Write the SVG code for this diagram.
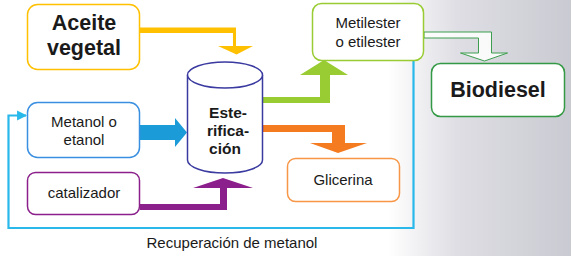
<svg xmlns="http://www.w3.org/2000/svg" width="571" height="256" viewBox="0 0 571 256">
<defs>
<linearGradient id="bg" x1="0" y1="0" x2="1" y2="0">
<stop offset="0" stop-color="#ffffff"/>
<stop offset="0.68" stop-color="#ffffff"/>
<stop offset="0.8" stop-color="#dedee4"/>
<stop offset="1" stop-color="#cacad2"/>
</linearGradient>
<marker id="cyanhead" viewBox="0 0 10 10" refX="9" refY="5" markerWidth="4.5" markerHeight="5" orient="auto" markerUnits="strokeWidth">
<path d="M0,0 L10,5 L0,10 Z" fill="#29b8ea"/>
</marker>
<style>
.box{fill:#ffffff;stroke-width:1.5}
.t{font-family:"Liberation Sans",Arial,sans-serif;fill:#1a1a1a;text-anchor:middle}
.big{font-size:21.5px;font-weight:bold}
.mid{font-size:15px}
.cyl{font-size:15.5px;font-weight:bold}
</style>
</defs>
<rect x="0" y="0" width="571" height="256" fill="url(#bg)"/>

<g id="connectors">
<path id="c-aceite" d="M140,27.5 H236 V46 H253 L236.5,54.5 L218,46 H233 V33 H140 Z" fill="#ffc000"/>
<path id="c-metanol" d="M140,125 H175 V118 L187,132.5 L175,147 V140 H140 Z" fill="#1b9bd7"/>
<path id="c-catal" d="M140,204 H220 V188 H193 L223,178 L253,188 H227 V210 H140 Z" fill="#8b1f8b"/>
<path id="c-metil" d="M263,97 H320 V75 H300 L324,60 L348,75 H330 V103 H263 Z" fill="#99cc33"/>
<path id="c-glic" d="M263,125 H345 V143 H367 L338,153 L310,143 H332 V132 H263 Z" fill="#f47b20"/>
<path id="c-bio" d="M424,32 H491.5 V53 H507.5 L484.5,61 L460.5,53 H478.5 V38 H424 Z" fill="#ffffff" fill-opacity="0.85" stroke="#3c9e4e" stroke-width="1"/>
<path id="c-recup" d="M413.5,61 V228 H8.5 V115.5 H26" fill="none" stroke="#29b8ea" stroke-width="2.2" marker-end="url(#cyanhead)"/>
<text class="t" x="232" y="248" font-size="15">Recuperación de metanol</text>
</g>

<g id="aceite">
<rect class="box" x="27.5" y="4.5" width="112" height="65" rx="10" stroke="#ffc000"/>
<text class="t big" x="84" y="30">Aceite</text>
<text class="t big" x="84" y="55">vegetal</text>
</g>

<g id="metanol">
<rect class="box" x="27.5" y="102.5" width="112" height="55" rx="10" stroke="#3a8fe0"/>
<text class="t mid" x="84" y="127">Metanol o</text>
<text class="t mid" x="84" y="145">etanol</text>
</g>

<g id="catalizador">
<rect class="box" x="27.5" y="172.5" width="112" height="42" rx="8" stroke="#8b1f8b"/>
<text class="t mid" x="84" y="198">catalizador</text>
</g>

<g id="esterificacion">
<path d="M187.5,75 V160 A37.5,13 0 0 0 262.5,160 V75" fill="#ffffff" stroke="#3a3aa0" stroke-width="1.5"/>
<ellipse cx="225" cy="75" rx="37.5" ry="13" fill="#ffffff" stroke="#3a3aa0" stroke-width="1.5"/>
<text class="t cyl" x="228" y="118">Este-</text>
<text class="t cyl" x="228" y="136">rifica-</text>
<text class="t cyl" x="225" y="154">ción</text>
</g>

<g id="metilester">
<rect class="box" x="312.5" y="3.5" width="111" height="57" rx="9" stroke="#99cc33"/>
<text class="t mid" x="368" y="28">Metilester</text>
<text class="t mid" x="368" y="47">o etilester</text>
</g>

<g id="glicerina">
<rect class="box" x="287.5" y="158.5" width="112" height="43" rx="8" stroke="#f79646"/>
<text class="t mid" x="343" y="185">Glicerina</text>
</g>

<g id="biodiesel">
<rect class="box" x="431.5" y="63.5" width="133" height="53" rx="9" stroke="#339944"/>
<text class="t big" x="498" y="97" font-size="22">Biodiesel</text>
</g>
</svg>
